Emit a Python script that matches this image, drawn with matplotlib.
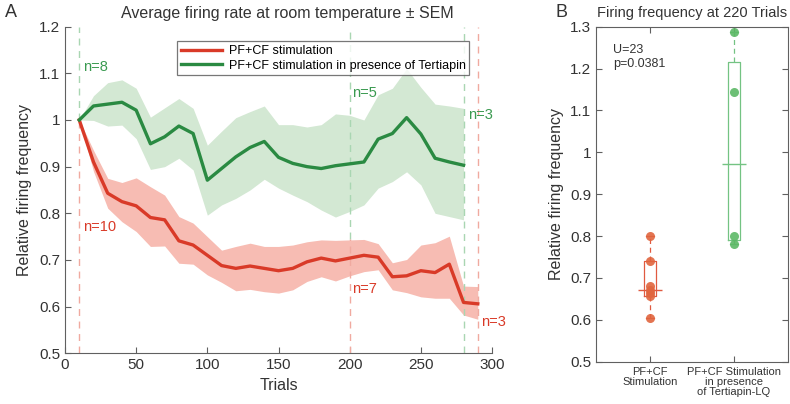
import numpy as np
import matplotlib
matplotlib.use('Agg')
import matplotlib.pyplot as plt

plt.rcParams['font.family'] = ['Liberation Sans', 'DejaVu Sans']

# Panel A: average relative firing rate per block of trials
trials_red = [10, 20, 30, 40, 50, 60, 70, 80, 90, 100, 110, 120, 130, 140, 150,
              160, 170, 180, 190, 200, 210, 220, 230, 240, 250, 260, 270, 280, 290]
red_mean = [1.0, 0.91, 0.843, 0.825, 0.816, 0.791, 0.786, 0.741, 0.732, 0.71,
            0.688, 0.682, 0.687, 0.682, 0.677, 0.682, 0.696, 0.704, 0.698, 0.704,
            0.71, 0.706, 0.664, 0.666, 0.677, 0.673, 0.691, 0.609, 0.606]
red_upper = [1.0, 0.935, 0.875, 0.866, 0.876, 0.857, 0.839, 0.793, 0.779, 0.75,
             0.721, 0.729, 0.736, 0.729, 0.729, 0.732, 0.739, 0.743, 0.742, 0.743,
             0.744, 0.735, 0.694, 0.701, 0.732, 0.737, 0.751, 0.644, 0.643]
red_lower = [1.0, 0.89, 0.811, 0.782, 0.761, 0.729, 0.73, 0.693, 0.691, 0.668,
             0.652, 0.634, 0.637, 0.632, 0.629, 0.636, 0.654, 0.664, 0.655, 0.666,
             0.675, 0.679, 0.636, 0.63, 0.621, 0.618, 0.618, 0.582, 0.573]

trials_green = [10, 20, 30, 40, 50, 60, 70, 80, 90, 100, 110, 120, 130, 140, 150,
                160, 170, 180, 190, 200, 210, 220, 230, 240, 250, 260, 270, 280]
green_mean = [1.0, 1.03, 1.034, 1.038, 1.021, 0.949, 0.964, 0.987, 0.971, 0.871,
              0.896, 0.921, 0.941, 0.954, 0.92, 0.907, 0.9, 0.896, 0.902, 0.906,
              0.91, 0.959, 0.971, 1.005, 0.97, 0.918, 0.91, 0.903]
green_upper = [1.0, 1.052, 1.08, 1.086, 1.068, 1.006, 1.026, 1.046, 1.025, 0.946,
               0.976, 1.005, 1.018, 1.03, 0.99, 0.99, 0.985, 0.99, 1.013, 1.01,
               1.0, 1.054, 1.068, 1.11, 1.07, 1.034, 1.03, 1.025]
green_lower = [1.0, 0.999, 0.987, 0.989, 0.96, 0.894, 0.9, 0.918, 0.893, 0.796,
               0.818, 0.832, 0.85, 0.873, 0.854, 0.839, 0.825, 0.807, 0.792, 0.804,
               0.818, 0.854, 0.868, 0.889, 0.861, 0.8, 0.793, 0.786]

# Panel B: individual cells at 220 trials
cells_red = [0.80, 0.74, 0.68, 0.672, 0.665, 0.658, 0.605]
cells_green = [1.287, 1.143, 0.80, 0.782]
group_labels = ['PF+CF\nStimulation', 'PF+CF Stimulation\nin presence\nof Tertiapin-LQ']

RED = '#d93a28'
RED_FILL = '#f7bcb3'
RED_DASH = '#f0aaa0'
GREEN = '#2a8a42'
GREEN_FILL = '#d3e8d3'
GREEN_DASH = '#a9d6b2'
AX_COL = '#606060'
TXT = '#333333'


def style_axes(ax):
    for sp in ax.spines.values():
        sp.set_color(AX_COL)
        sp.set_linewidth(0.8)
    ax.tick_params(direction='in', length=4, colors=AX_COL, labelcolor=TXT,
                   labelsize=11)


def halves_stats(values, label):
    # box = median of lower half / upper half (median excluded for odd n)
    v = np.sort(values)
    n = len(v)
    lo = v[:n // 2]
    hi = v[(n + 1) // 2:]
    return dict(med=np.median(v), q1=np.median(lo), q3=np.median(hi),
                whislo=v.min(), whishi=v.max(), fliers=[], label=label)


fig = plt.figure(figsize=(7.9, 4.04), dpi=100)

# ---------------- Panel A ----------------
ax = fig.add_axes([0.0823, 0.1255, 0.5405, 0.8085])
ax.fill_between(trials_green, green_lower, green_upper, color=GREEN_FILL, lw=0)
ax.fill_between(trials_red, red_lower, red_upper, color=RED_FILL, lw=0)

# n markers
ax.vlines(10, 1.0, 1.2, colors=GREEN_DASH, linestyles=(0, (5, 4)), lw=1)
ax.vlines(10, 0.5, 1.0, colors=RED_DASH, linestyles=(0, (5, 4)), lw=1)
ax.vlines(200, 0.745, 1.2, colors=GREEN_DASH, linestyles=(0, (5, 4)), lw=1)
ax.vlines(200, 0.5, 0.745, colors=RED_DASH, linestyles=(0, (5, 4)), lw=1)
ax.vlines(280, 0.5, 1.2, colors=GREEN_DASH, linestyles=(0, (5, 4)), lw=1)
ax.vlines(290, 0.5, 1.2, colors=RED_DASH, linestyles=(0, (5, 4)), lw=1)

ax.plot(trials_red, red_mean, color=RED, lw=2.4, label='PF+CF stimulation')
ax.plot(trials_green, green_mean, color=GREEN, lw=2.4,
        label='PF+CF stimulation in presence of Tertiapin')

ax.text(12.5, 1.114, 'n=8', color='#3a9a50', fontsize=10.5, va='center')
ax.text(12.5, 0.77, 'n=10', color=RED, fontsize=10.5, va='center')
ax.text(201.5, 1.058, 'n=5', color='#3a9a50', fontsize=10.5, va='center')
ax.text(201.5, 0.637, 'n=7', color=RED, fontsize=10.5, va='center')
ax.text(283, 1.011, 'n=3', color='#3a9a50', fontsize=10.5, va='center')
ax.text(292.5, 0.568, 'n=3', color=RED, fontsize=10.5, va='center')

ax.set_xlim(0, 300)
ax.set_ylim(0.5, 1.2)
ax.set_xticks([0, 50, 100, 150, 200, 250, 300])
yt = [0.5, 0.6, 0.7, 0.8, 0.9, 1.0, 1.1, 1.2]
ax.set_yticks(yt)
ax.set_yticklabels(['%g' % t for t in yt])
ax.spines['top'].set_visible(False)
ax.spines['right'].set_visible(False)
style_axes(ax)
ax.set_xlabel('Trials', fontsize=11.5, color=TXT, labelpad=4)
ax.set_ylabel('Relative firing frequency', fontsize=11.5, color=TXT, labelpad=5)
ax.set_title('Average firing rate at room temperature ± SEM', fontsize=11.5,
             color=TXT, x=0.52, pad=6)
leg = ax.legend(loc='upper right', bbox_to_anchor=(0.947, 0.955), fontsize=9,
                frameon=True, fancybox=False, handlelength=3.3,
                borderpad=0.3, labelspacing=0.2, handletextpad=0.5,
                borderaxespad=0)
leg.get_frame().set_edgecolor('#555555')
leg.get_frame().set_linewidth(0.9)
fig.text(0.006, 0.968, 'A', fontsize=13, color=TXT, va='center')

# ---------------- Panel B ----------------
bx = fig.add_axes([0.7544, 0.1047, 0.2431, 0.8293])
stats = [halves_stats(cells_red, group_labels[0]),
         halves_stats(cells_green, group_labels[1])]
for pos, st, col in [(1, stats[0], '#e05a40'), (2, stats[1], '#74c383')]:
    bx.bxp([st], positions=[pos], widths=0.147, capwidths=0.09, showfliers=False,
           boxprops=dict(color=col, lw=0.9),
           whiskerprops=dict(color=col, lw=0.9, linestyle=(0, (4, 3))),
           capprops=dict(color=col, lw=0.9),
           medianprops=dict(lw=0))
    bx.hlines(st['med'], pos - 0.145, pos + 0.145, colors=col, lw=1.0)
vals = [cells_red, cells_green]
dot_cols = ['#e0653e', '#5cb866']
for i, v in enumerate(vals):
    bx.plot([i + 1] * len(v), v, 'o', color=dot_cols[i], ms=6.5, alpha=0.9,
            markeredgewidth=0)

bx.text(0.09, 0.949, 'U=23\np=0.0381', transform=bx.transAxes, fontsize=9,
        color=TXT, va='top', linespacing=1.2)
bx.set_xlim(0.357, 2.643)
bx.set_ylim(0.5, 1.3)
bx.set_xticks([1, 2])
bx.set_xticklabels(group_labels, fontsize=8, color=TXT, linespacing=1.0)
ybt = [0.5, 0.6, 0.7, 0.8, 0.9, 1.0, 1.1, 1.2, 1.3]
bx.set_yticks(ybt)
bx.set_yticklabels(['%g' % t for t in ybt])
style_axes(bx)
bx.tick_params(top=True, right=True)
bx.tick_params(axis='x', labelsize=8, pad=4)
bx.set_ylabel('Relative firing frequency', fontsize=11.5, color=TXT, labelpad=4)
bx.set_title('Firing frequency at 220 Trials', fontsize=10.5, color=TXT, pad=7)
fig.text(0.703, 0.968, 'B', fontsize=13, color=TXT, va='center')

fig.savefig('out.png', dpi=100)
